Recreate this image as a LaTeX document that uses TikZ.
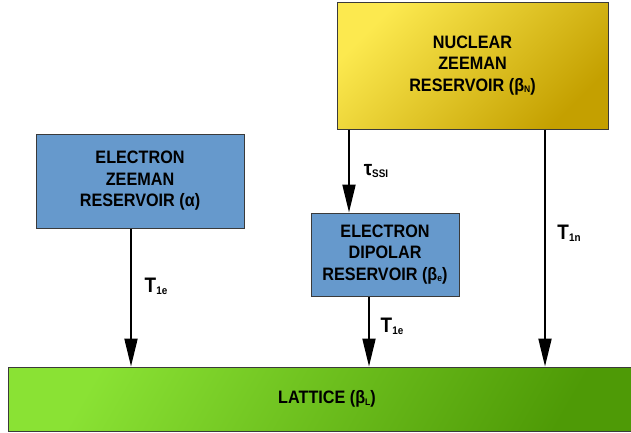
\documentclass[tikz,border=0pt]{standalone}
\usepackage{fontspec}
\setmainfont{Liberation Sans}
\newfontfamily\boxfont[FakeStretch=0.9]{Liberation Sans}
\usetikzlibrary{arrows.meta}
\definecolor{blueres}{HTML}{6699CC}
\definecolor{yellowA}{HTML}{FCE94F}
\definecolor{yellowB}{HTML}{C4A000}
\definecolor{greenA}{HTML}{8AE234}
\definecolor{greenB}{HTML}{4E9A06}
\definecolor{edge}{HTML}{3A3A3A}
\newcommand\mysub[1]{\raisebox{-1.5pt}{\fontsize{9.5}{9.5}\selectfont #1}}
\newcommand\labsub[1]{\raisebox{-2pt}{\fontsize{11}{11}\selectfont #1}}
\tikzset{
  res/.style={draw=edge, line width=1pt, align=center, inner sep=0pt,
    font=\boxfont\bfseries\fontsize{18}{21.5}\selectfont, text=black},
  arr/.style={line width=2pt, draw=black, -{Triangle[length=28pt,width=13pt]}},
  lab/.style={font=\boxfont\bfseries\fontsize{21}{21}\selectfont, inner sep=0pt, text=black}
}
\begin{document}
\begin{tikzpicture}[x=1pt,y=-1pt]
\useasboundingbox (0,0) rectangle (631,432);
\node[res, minimum width=271pt, minimum height=127pt,
  top color=yellowA, bottom color=yellowB, shading angle=45]
  (nuc) at (472.5,65.5) {NUCLEAR\\ZEEMAN\\RESERVOIR (β\mysub{N})};
\node[res, fill=blueres, minimum width=208pt, minimum height=94pt]
  (ez) at (140,181) {ELECTRON\\ZEEMAN\\RESERVOIR (α)};
\node[res, fill=blueres, minimum width=148pt, minimum height=83pt]
  (ed) at (385,254.5) {ELECTRON\\DIPOLAR\\RESERVOIR (β\mysub{e})};
\node[res, minimum width=638pt, minimum height=64pt,
  top color=greenA, bottom color=greenB, shading angle=60]
  (lat) at (327,399) {LATTICE (β\mysub{L})};
\draw[arr] ([xshift=-9pt]ez.south) -- ([xshift=-9pt]ez.south |- lat.north);
\draw[arr] ([xshift=-123.5pt]nuc.south) -- ([xshift=-123.5pt]nuc.south |- ed.north);
\draw[arr] ([xshift=-16pt]ed.south) -- ([xshift=-16pt]ed.south |- lat.north);
\draw[arr] ([xshift=72.5pt]nuc.south) -- ([xshift=72.5pt]nuc.south |- lat.north);
\node[lab] (l1) at (156,286) {T\labsub{1e}};
\node[lab] (l2) at (376,171) {τ\labsub{SSI}};
\node[lab] (l3) at (392,326) {T\labsub{1e}};
\node[lab] (l4) at (569,233) {T\labsub{1n}};
\end{tikzpicture}
\end{document}
